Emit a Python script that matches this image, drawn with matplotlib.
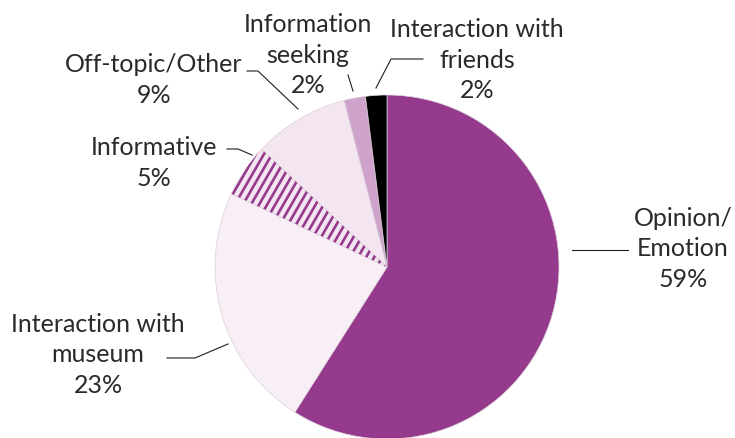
import matplotlib
matplotlib.use("Agg")
import matplotlib.pyplot as plt
import numpy as np
from matplotlib.lines import Line2D

plt.rcParams['font.family'] = ['Lato', 'DejaVu Sans']

# Share of posts by content category (clockwise from 12 o'clock)
categories = ["Opinion/\nEmotion", "Interaction with\nmuseum", "Informative",
              "Off-topic/Other", "Information\nseeking", "Interaction with\nfriends"]
shares = [59, 23, 5, 9, 2, 2]
colors = ["#953A8D", "#F7EEF6", "#F3E6F1", "#F3E6F1", "#CFA2CB", "#000000"]
hatched = [False, False, True, False, False, False]

W, H = 735, 439
fig = plt.figure(figsize=(W / 100, H / 100), dpi=100)
ax = fig.add_axes([0, 0, 1, 1])
ax.set_xlim(0, W)
ax.set_ylim(0, H)
ax.set_aspect("equal")
ax.axis("off")

center = (387, H - 268)
radius = 172

wedges, _ = ax.pie(shares, colors=colors, startangle=90, counterclock=False,
                   center=center, radius=radius,
                   wedgeprops=dict(edgecolor="#DCD0DA", linewidth=0.5))
ax.set_xlim(0, W)
ax.set_ylim(0, H)

# Striped fill for hatched wedges: steep parallel bars clipped to the wedge
for w, h in zip(wedges, hatched):
    if not h:
        continue
    ang = np.deg2rad(60)
    d = np.array([np.cos(ang), np.sin(ang)])
    n = np.array([-d[1], d[0]])
    step = 7.0
    for k in np.arange(-60, 60):
        p = np.array(center) + n * (k * step + 2)
        a, b = p - d * 400, p + d * 400
        ln = Line2D([a[0], b[0]], [a[1], b[1]], color="#953A8D", lw=1.9,
                    solid_capstyle="butt")
        ax.add_line(ln)
        ln.set_clip_path(w)

# Label text and leader lines (pixel positions from top-left)
label_pos = [(683, 249), (98, 355), (154, 163), (154, 80), (308, 55), (477, 60)]
leaders = [
    [(572, 251), (628, 251)],
    [(167, 359), (195, 359), (228, 345)],
    [(227, 150), (238, 150), (252, 156)],
    [(247, 72), (258, 72), (298, 110)],
    [(348, 76), (353, 92)],
    [(423, 60), (391, 60), (376, 89)],
]

for cat, val, (x, y), pts in zip(categories, shares, label_pos, leaders):
    ax.text(x, H - y, f"{cat}\n{val}%", ha="center", va="center",
            fontsize=18, color="#2A2A2A", linespacing=1.38)
    xs = [p[0] for p in pts]
    ys = [H - p[1] for p in pts]
    ax.plot(xs, ys, color="#1E1E1E", lw=0.8)

fig.savefig("out.png", dpi=100)
